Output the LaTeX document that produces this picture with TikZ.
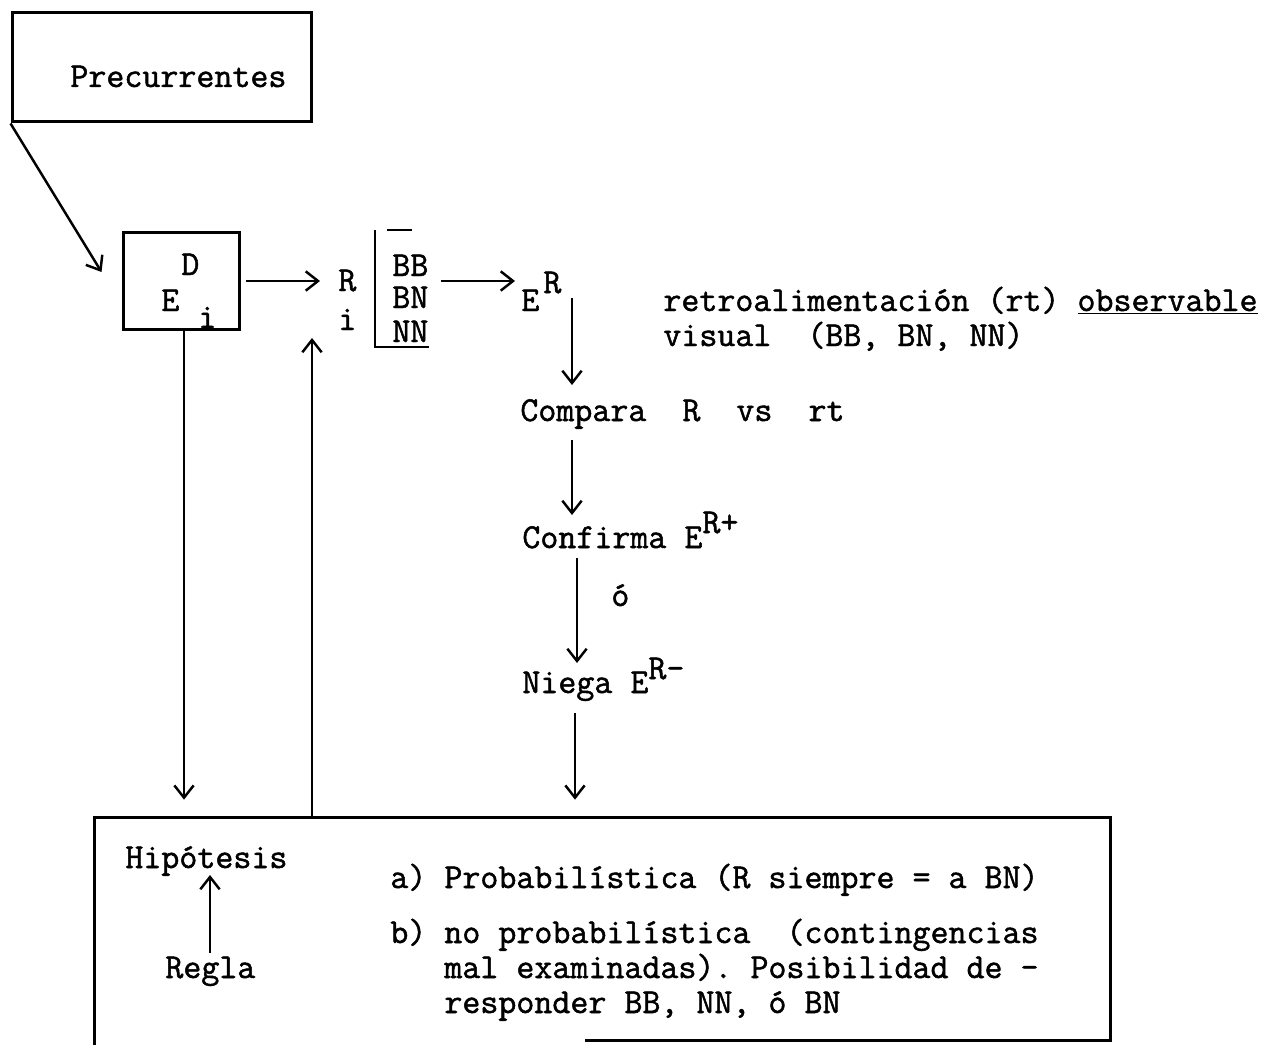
\documentclass[tikz,border=0pt]{standalone}
\usepackage{fontspec}
\setmonofont[FakeBold=1.4]{Latin Modern Mono}
\usetikzlibrary{arrows.meta,calc}
\begin{document}
\begin{tikzpicture}[x=0.02cm,y=-0.02cm,
  txt/.style={inner sep=0pt, anchor=base west, font=\ttfamily\fontsize{19.9pt}{22pt}\selectfont},
  boxl/.style={draw, line width=1.7pt},
  conn/.style={line width=1.4pt},
  arr/.style={line width=1.4pt, -{Straight Barb[length=7pt,width=11pt,line width=1.4pt]}}]
\useasboundingbox (0,0) rectangle (1263,1044);

% boxes
\node[boxl, minimum width=6cm, minimum height=2.2cm, inner sep=0pt] (prec) at (162,67) {};
\node[txt] (prect) at (70,87) {Precurrentes};
\node[boxl, minimum width=2.34cm, minimum height=1.96cm, inner sep=0pt] (de) at (181.5,281) {};
\node[txt] (D) at (181,275) {D};
\node[txt] (E) at (161,311) {E};
\node[txt] (Ei) at (198,328) {i};
\node[minimum width=20.3cm, minimum height=4.44cm, inner sep=0pt] (hypbox) at (602.5,929) {};

% R_i and bracket
\node[txt] (Rr) at (338,291) {R};
\node[txt] (Ri) at (338,330) {i};
\node[txt] (BB) at (392,276) {BB};
\node[txt] (BN) at (392,308) {BN};
\node[txt] (NN) at (392,342) {NN};
\node[txt] (ER) at (521,311) {E\kern0.08cm\raisebox{0.36cm}{R}};

% right column texts
\node[txt] (retro) at (663,311) {retroalimentación (rt) \underline{observable}};
\node[txt] (visual) at (663,346) {visual~~(BB, BN, NN)};
\node[txt] (compara) at (520,421) {Compara~~R~~vs~~rt};
\node[txt] (confirma) at (522,548) {Confirma E\raisebox{0.3cm}{R+}};
\node[txt] (o) at (611,606) {ó};
\node[txt] (niega) at (522,693) {Niega E\raisebox{0.28cm}{R-}};

% bottom box texts
\node[txt] (hipo) at (125,868) {Hipótesis};
\node[txt] (regla) at (165,978) {Regla};
\node[txt] (ia) at (390,888) {a) Probabilística (R siempre = a BN)};
\node[txt] (ib) at (390,943) {b) no probabilística~~(contingencias};
\node[txt] (ib2) at (444,978) {mal examinadas). Posibilidad de -};
\node[txt] (ib3) at (444,1013) {responder BB, NN, ó BN};

% column coordinates
\coordinate (colA) at (572,0);
\coordinate (colB) at (577,0);
\coordinate (colC) at (575,0);
\coordinate (colD) at (184,0);
\coordinate (colE) at (312,0);
\coordinate (colF) at (210,0);

% bottom box outline (bottom-left part missing)
\draw[boxl] ($(hypbox.south west)+(0,6)$) -- (hypbox.north west) -- (hypbox.north east) -- (hypbox.south east) -- ($(hypbox.south west)+(490,0)$);

% bracket
\draw[conn] ($(BB.base west)+(-17,-46)$) -- ($(NN.base west)+(-17,5)$) -- ($(NN.base east)+(0,5)$);
\draw[conn] ($(BB.base west)+(-5,-46)$) -- ($(BB.base west)+(20,-46)$);

% connectors
\draw[arr] (prec.south west) -- ($(de.west)+(-20,-9)$);
\draw[arr] ($(de.east)+(5,0)$) -- ($(Rr.base west |- de.east)+(-18,0)$);
\draw[arr] ($(BB.base east |- de.east)+(12,0)$) -- ($(ER.base west |- de.east)+(-6,0)$);
\draw[arr] ($(colA |- ER.base)+(0,-13)$) -- ($(colA |- compara.base)+(0,-36)$);
\draw[arr] ($(colA |- compara.base)+(0,19)$) -- ($(colA |- confirma.base)+(0,-33)$);
\draw[arr] ($(colB |- confirma.base)+(0,10)$) -- ($(colB |- niega.base)+(0,-30)$);
\draw[arr] ($(colC |- niega.base)+(0,20)$) -- ($(colC |- hypbox.north)+(0,-18)$);
\draw[arr] (colD |- de.south) -- ($(colD |- hypbox.north)+(0,-18)$);
\draw[arr] (colE |- hypbox.north) -- ($(colE |- Ri.base)+(0,8)$);
\draw[arr] ($(colF |- regla.base)+(0,-25)$) -- ($(colF |- hipo.base)+(0,7)$);
\end{tikzpicture}
\end{document}
